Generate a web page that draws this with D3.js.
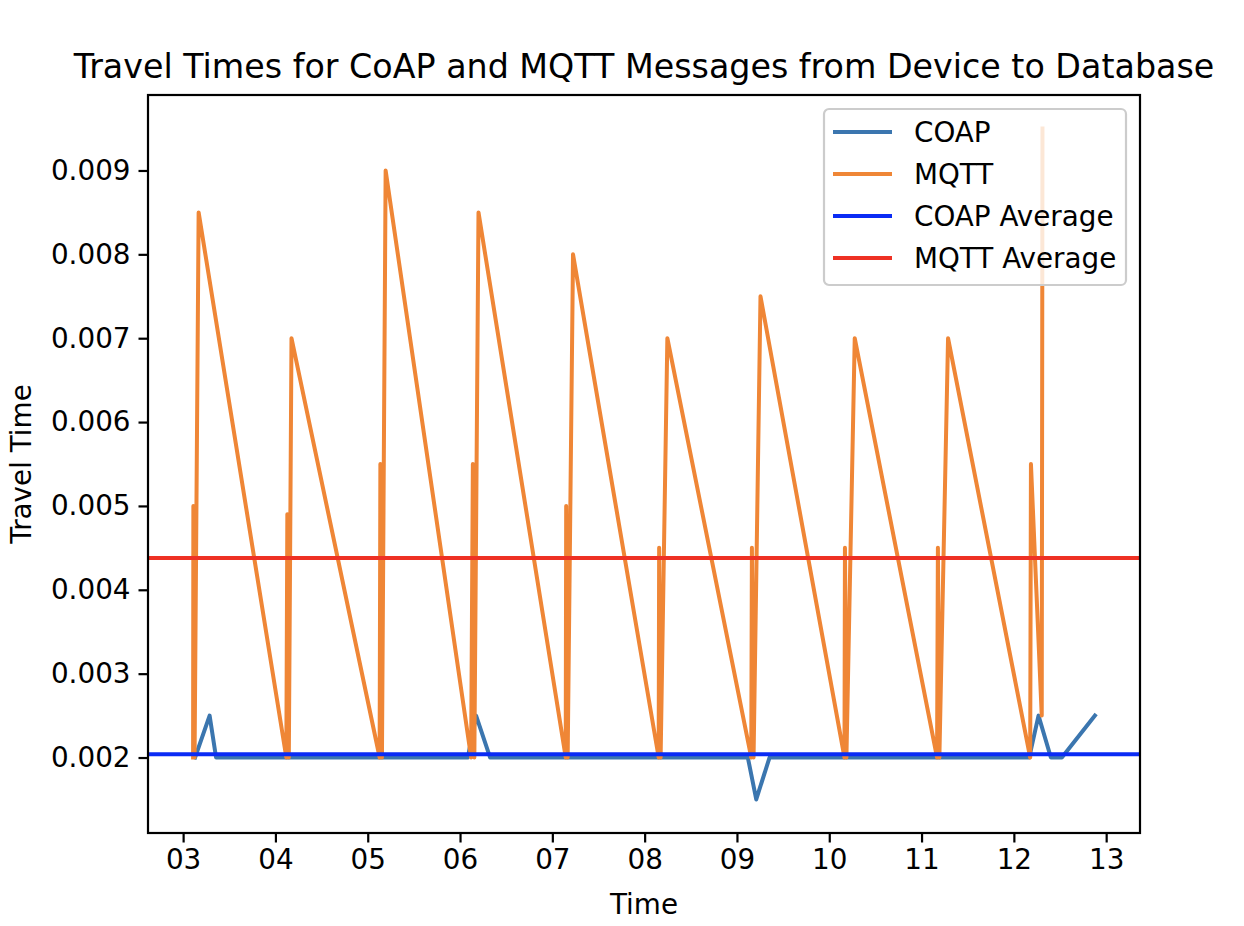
<!DOCTYPE html>
<html>
<head>
<meta charset="utf-8">
<script src="https://cdn.jsdelivr.net/npm/d3@7"></script>
<style>
  body { margin: 0; background: #fff; }
  text { font-family: "DejaVu Sans", sans-serif; fill: #000; }
</style>
</head>
<body>
<script>
// data (time in days of month, travel time in seconds)
var coapTime = [3.13, 3.287, 3.357, 3.60, 4.13, 4.18, 4.25, 4.60, 5.13, 5.19, 5.25, 5.60,
  6.084, 6.174, 6.326, 6.60, 7.15, 7.22, 7.60, 8.15, 8.22, 8.60, 9.118, 9.209, 9.353, 9.60,
  10.17, 10.25, 10.60, 11.17, 11.25, 11.60, 12.166, 12.267, 12.401, 12.52, 12.878];
var coapTravel = [0.002, 0.0025, 0.002, 0.002, 0.002, 0.002, 0.002, 0.002, 0.002, 0.002, 0.002, 0.002,
  0.002, 0.0025, 0.002, 0.002, 0.002, 0.002, 0.002, 0.002, 0.002, 0.002, 0.002, 0.0015, 0.002, 0.002,
  0.002, 0.002, 0.002, 0.002, 0.002, 0.002, 0.002, 0.0025, 0.002, 0.002, 0.0025];

var mqttTime = [3.108, 3.111, 3.124, 3.168, 4.118, 4.129, 4.145, 4.174, 5.129, 5.137, 5.154, 5.194,
  6.120, 6.139, 6.155, 6.200, 7.145, 7.150, 7.166, 7.224, 8.152, 8.157, 8.173, 8.246,
  9.155, 9.162, 9.180, 9.255, 10.165, 10.170, 10.186, 10.276, 11.168, 11.177, 11.193, 11.287,
  12.177, 12.185, 12.302, 12.310];
var mqttTravel = [0.002, 0.005, 0.002, 0.0085, 0.002, 0.0049, 0.002, 0.007, 0.002, 0.0055, 0.002, 0.009,
  0.002, 0.0055, 0.002, 0.0085, 0.002, 0.005, 0.002, 0.008, 0.002, 0.0045, 0.002, 0.007,
  0.002, 0.0045, 0.002, 0.0075, 0.002, 0.0045, 0.002, 0.007, 0.002, 0.0045, 0.002, 0.007,
  0.002, 0.0055, 0.0025, 0.0095];

var coapAverage = 0.00204;
var mqttAverage = 0.00438;

var xTicks = [3, 4, 5, 6, 7, 8, 9, 10, 11, 12, 13];
var yTicks = [0.002, 0.003, 0.004, 0.005, 0.006, 0.007, 0.008, 0.009];
var legendLabels = ["COAP", "MQTT", "COAP Average", "MQTT Average"];
var legendColors = ["#3b76af", "#ef8636", "#0a2bf5", "#ee3124"];

var W = 1244, H = 926;
var ax = {left: 148, right: 1140, top: 95, bottom: 833};
var lw = 4;
var fs = 27.8;  // 10pt

var svg = d3.select("body").append("svg")
  .attr("width", W).attr("height", H);

// domains with 5% margins like matplotlib
var allT = coapTime.concat(mqttTime);
var allV = coapTravel.concat(mqttTravel);
var tExt = d3.extent(allT), vExt = d3.extent(allV);
var tPad = (tExt[1] - tExt[0]) * 0.05, vPad = (vExt[1] - vExt[0]) * 0.05;

var x = d3.scaleLinear().domain([tExt[0] - tPad, tExt[1] + tPad]).range([ax.left, ax.right]);
var y = d3.scaleLinear().domain([vExt[0] - vPad, vExt[1] + vPad]).range([ax.bottom, ax.top]);

svg.append("clipPath").attr("id", "clip")
  .append("rect")
  .attr("x", ax.left).attr("y", ax.top)
  .attr("width", ax.right - ax.left).attr("height", ax.bottom - ax.top);

var plot = svg.append("g").attr("clip-path", "url(#clip)");

var line = d3.line().x(function(d){ return x(d[0]); }).y(function(d){ return y(d[1]); });

plot.append("path")
  .datum(d3.zip(coapTime, coapTravel))
  .attr("d", line)
  .attr("fill", "none").attr("stroke", legendColors[0])
  .attr("stroke-width", lw).attr("stroke-linejoin", "round").attr("stroke-linecap", "square");

plot.append("path")
  .datum(d3.zip(mqttTime, mqttTravel))
  .attr("d", line)
  .attr("fill", "none").attr("stroke", legendColors[1])
  .attr("stroke-width", lw).attr("stroke-linejoin", "round").attr("stroke-linecap", "square");

// average lines across the whole axes
[coapAverage, mqttAverage].forEach(function(v, i){
  plot.append("line")
    .attr("x1", ax.left).attr("x2", ax.right)
    .attr("y1", y(v)).attr("y2", y(v))
    .attr("stroke", legendColors[2 + i]).attr("stroke-width", lw);
});

// axes
var xAxis = d3.axisBottom(x).tickValues(xTicks).tickFormat(d3.format("02d"))
  .tickSize(9.5).tickPadding(7);
var yAxis = d3.axisLeft(y).tickValues(yTicks).tickFormat(d3.format(".3f"))
  .tickSize(9.5).tickPadding(8);

var gx = svg.append("g").attr("transform", "translate(0," + ax.bottom + ")").call(xAxis);
var gy = svg.append("g").attr("transform", "translate(" + ax.left + ",0)").call(yAxis);

[gx, gy].forEach(function(g){
  g.select(".domain").remove();
  g.selectAll(".tick line").attr("stroke", "#000").attr("stroke-width", 2.2);
  g.selectAll(".tick text").attr("font-size", fs).attr("font-family", "DejaVu Sans").attr("fill", "#000");
});

// frame
svg.append("rect")
  .attr("x", ax.left).attr("y", ax.top)
  .attr("width", ax.right - ax.left).attr("height", ax.bottom - ax.top)
  .attr("fill", "none").attr("stroke", "#000").attr("stroke-width", 2.2);

// labels
svg.append("text")
  .attr("x", (ax.left + ax.right) / 2).attr("y", 78)
  .attr("text-anchor", "middle").attr("font-size", 33.3)
  .text("Travel Times for CoAP and MQTT Messages from Device to Database");

svg.append("text")
  .attr("x", (ax.left + ax.right) / 2).attr("y", 914)
  .attr("text-anchor", "middle").attr("font-size", fs)
  .text("Time");

svg.append("text")
  .attr("transform", "translate(31," + ((ax.top + ax.bottom) / 2) + ") rotate(-90)")
  .attr("text-anchor", "middle").attr("font-size", fs)
  .text("Travel Time");

// legend
var leg = svg.append("g").attr("transform", "translate(824,109)");
leg.append("rect")
  .attr("width", 302).attr("height", 176).attr("rx", 5)
  .attr("fill", "#fff").attr("fill-opacity", 0.8)
  .attr("stroke", "#cccccc").attr("stroke-width", 2.2);

legendLabels.forEach(function(lab, i){
  var ly = 23 + i * 42;
  leg.append("line")
    .attr("x1", 9).attr("x2", 68).attr("y1", ly).attr("y2", ly)
    .attr("stroke", legendColors[i]).attr("stroke-width", lw);
  leg.append("text")
    .attr("x", 90).attr("y", ly + 9.8)
    .attr("font-size", fs)
    .text(lab);
});
</script>
</body>
</html>
